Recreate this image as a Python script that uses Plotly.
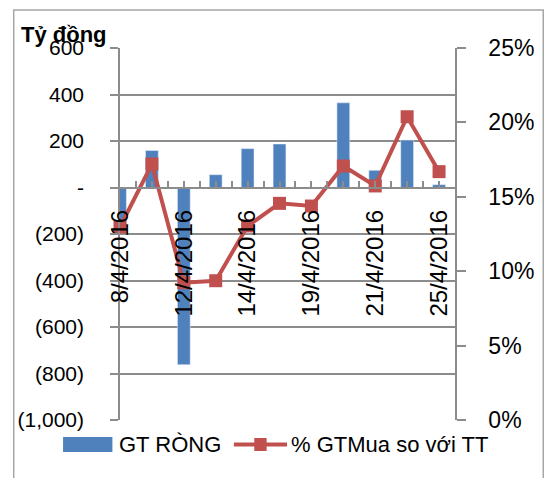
import plotly.graph_objects as go

dates = ["8/4/2016", "11/4/2016", "12/4/2016", "13/4/2016", "14/4/2016", "15/4/2016",
         "19/4/2016", "20/4/2016", "21/4/2016", "22/4/2016", "25/4/2016"]
gt_rong = [-170, 159, -762, 55, 167, 187, -5, 364, 74, 204, 12]
pct_gtmua = [12.97, 17.2, 9.23, 9.36, 13.04, 14.56, 14.38, 17.07, 15.73, 20.38, 16.69]
left_ticks = [-1000, -800, -600, -400, -200, 0, 200, 400, 600]
left_tick_text = ["(1,000)", "(800)", "(600)", "(400)", "(200)", "-", "200", "400", "600"]
right_ticks = [0, 0.05, 0.10, 0.15, 0.20, 0.25]
series_names = ["GT RÒNG", "% GTMua so với TT"]
y_title = "Tỷ đồng"

BLUE = "#4F81BD"
RED = "#C0504D"
GRID = "#8c8c8c"
FONT = "Liberation Sans"

xpos = list(range(len(dates)))
xlabels = [d if i % 2 == 0 else "" for i, d in enumerate(dates)]

fig = go.Figure()
fig.add_trace(go.Bar(x=xpos, y=gt_rong, name=series_names[0], marker_color=BLUE,
                     width=0.4, showlegend=False))
fig.add_trace(go.Scatter(x=xpos, y=[p / 100 for p in pct_gtmua], name=series_names[1],
                         mode="lines+markers", yaxis="y2", cliponaxis=False,
                         line=dict(color=RED, width=4),
                         marker=dict(symbol="square", size=13, color=RED),
                         showlegend=False))

W, H = 546, 478
L, R, T, B = 120, 73, 48, 58
pw, ph = W - L - R, H - T - B
zero_frac = (0 - (-1000)) / 1600.0


def px(x):
    return (x - L) / pw


def py(y):
    return (H - B - y) / ph


fig.update_layout(
    width=W, height=H,
    margin=dict(l=L, r=R, t=T, b=B, pad=0),
    paper_bgcolor="white", plot_bgcolor="white",
    font=dict(family=FONT, size=21, color="black"),
    bargap=0.6,
    xaxis=dict(range=[0, 10.5], tickvals=xpos, ticktext=xlabels, tickangle=-90,
               anchor="free", position=zero_frac, showline=True, linecolor=GRID,
               linewidth=1.5, ticks="inside", ticklen=6, tickcolor=GRID, tickwidth=1.5,
               showgrid=False, zeroline=False, ticklabelstandoff=12,
               tickfont=dict(size=24),
               minor=dict(dtick=0.5, tick0=0, ticks="inside", ticklen=6,
                          tickcolor=GRID, tickwidth=1.5, showgrid=False)),
    yaxis=dict(range=[-1000, 600], tickvals=left_ticks, ticktext=left_tick_text,
               showline=True, linecolor=GRID, linewidth=1.5, ticks="outside",
               ticklen=8, tickcolor=GRID, tickwidth=1.5, showgrid=True,
               gridcolor=GRID, gridwidth=1.5, zeroline=False,
               ticklabelstandoff=22, tickfont=dict(size=21)),
    yaxis2=dict(range=[0, 0.25], tickvals=right_ticks, tickformat=".0%",
                overlaying="y", side="right", showline=True, linecolor=GRID,
                linewidth=1.5, ticks="outside", ticklen=9, tickcolor=GRID,
                tickwidth=1.5, showgrid=False, zeroline=False,
                ticklabelstandoff=18, tickfont=dict(size=23)),
)

shapes = []
# chart border (extends past right and bottom edges)
shapes.append(dict(type="rect", xref="paper", yref="paper",
                   x0=px(8), x1=px(W + 20), y0=py(H + 20), y1=py(10),
                   line=dict(color="#a6a6a6", width=1.5), fillcolor="rgba(0,0,0,0)",
                   layer="below"))
# legend swatches
shapes.append(dict(type="rect", xref="paper", yref="paper",
                   x0=px(60), x1=px(112), y0=py(452), y1=py(437),
                   line=dict(width=0), fillcolor=BLUE))
shapes.append(dict(type="line", xref="paper", yref="paper",
                   x0=px(240), x1=px(296), y0=py(444.5), y1=py(444.5),
                   line=dict(color=RED, width=4)))
shapes.append(dict(type="rect", xref="paper", yref="paper",
                   x0=px(261.5), x1=px(274.5), y0=py(451), y1=py(438),
                   line=dict(width=0), fillcolor=RED))
fig.update_layout(shapes=shapes)

fig.add_annotation(xref="paper", yref="paper", x=px(117), y=py(444.5),
                   text=series_names[0], showarrow=False, xanchor="left",
                   yanchor="middle", font=dict(size=22))
fig.add_annotation(xref="paper", yref="paper", x=px(298), y=py(444.5),
                   text=series_names[1], showarrow=False, xanchor="left",
                   yanchor="middle", font=dict(size=22))
fig.add_annotation(xref="paper", yref="paper", x=px(14), y=py(34),
                   text="<b>" + y_title + "</b>", showarrow=False, xanchor="left",
                   yanchor="middle", font=dict(size=22))

fig.write_html("out.html", config={"displayModeBar": False},
               post_script="document.body.style.margin='0';document.body.style.overflow='hidden';")
